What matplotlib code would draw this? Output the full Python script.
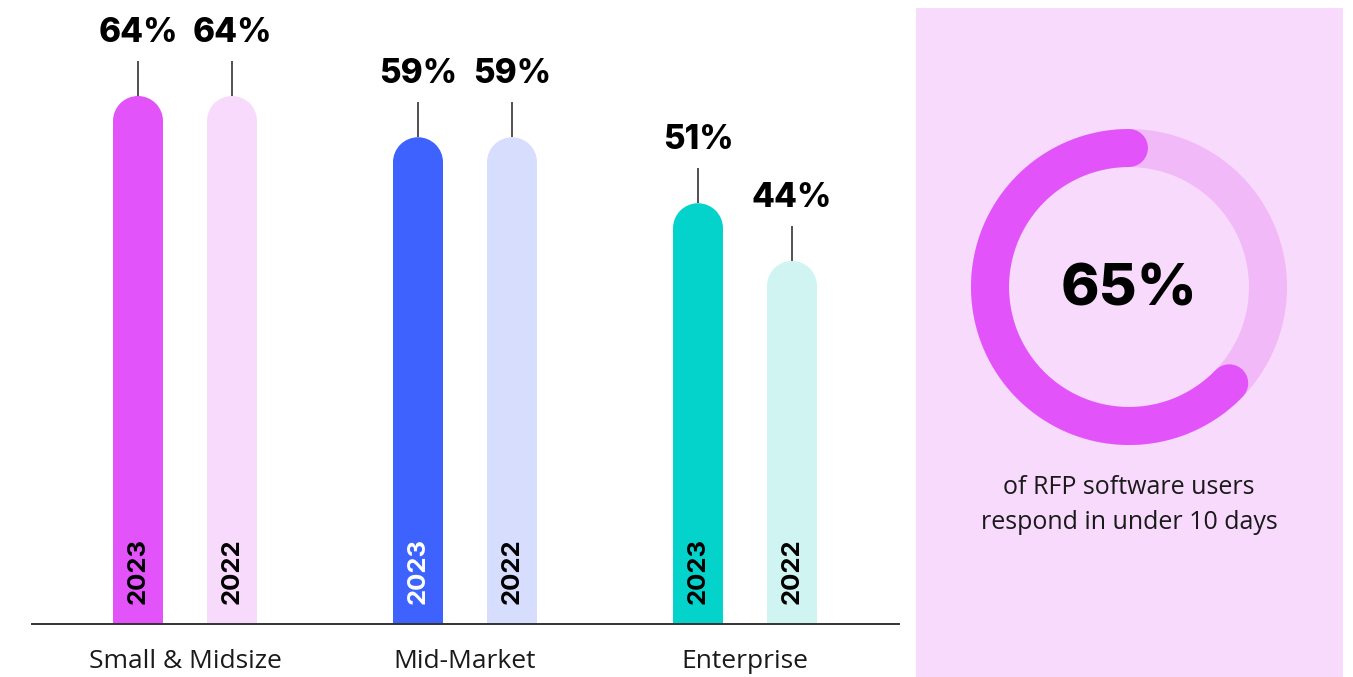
import numpy as np
import matplotlib
matplotlib.use("Agg")
import matplotlib.pyplot as plt
from matplotlib.patches import Rectangle, Ellipse, Wedge

# ---- data ----
categories = ["Small & Midsize", "Mid-Market", "Enterprise"]
years = ["2023", "2022"]
values_2023 = [64, 59, 51]
values_2022 = [64, 59, 44]
donut_value = 65
donut_caption = "of RFP software users\nrespond in under 10 days"

# ---- styling ----
dark_colors = ["#e254f9", "#3d62fe", "#04d3cc"]
light_colors = ["#f8dafc", "#d7defd", "#cff4f2"]
year_text_colors = [["black", "black"], ["white", "black"], ["black", "black"]]
panel_color = "#f8dafc"
track_color = "#f2b9f8"
arc_color = "#e254f9"

W, H, DPI = 1353, 677, 100
fig = plt.figure(figsize=(W / DPI, H / DPI), dpi=DPI)
fig.patch.set_facecolor("white")

# main bar axes: spans left part, bottom edge at the baseline
ax_left_px, ax_right_px = 0, 910
base_px = 624
ax = fig.add_axes([ax_left_px / W, (H - base_px) / H,
                   (ax_right_px - ax_left_px) / W, base_px / H])
ax.set_axis_off()

px_per_x = 280.0
first_center_px = 185.0
ax.set_xlim(-first_center_px / px_per_x, (ax_right_px - first_center_px) / px_per_x)
px_per_y = 8.25
ax.set_ylim(0, base_px / px_per_y)

bar_w = 50 / px_per_x
offset = 47 / px_per_x
cap_h = 25 / px_per_y  # rounded cap radius in data units (y)

label_font = "Inter"
cat_font = "Open Sans"

def rounded_bar(x, v, color):
    ax.add_patch(Rectangle((x - bar_w / 2, 0), bar_w, v - cap_h,
                           facecolor=color, edgecolor="none", zorder=2))
    ax.add_patch(Ellipse((x, v - cap_h), bar_w, 2 * cap_h,
                         facecolor=color, edgecolor="none", zorder=2))

for i, cat in enumerate(categories):
    for j, (vals, cols) in enumerate([(values_2023, dark_colors), (values_2022, light_colors)]):
        x = i + (-offset if j == 0 else offset)
        v = vals[i]
        rounded_bar(x, v, cols[i])
        # leader line above bar
        line_len = 35 / px_per_y
        ax.plot([x, x], [v, v + line_len], color="#222222", lw=1.1, zorder=3,
                solid_capstyle="butt", clip_on=False)
        ax.text(x, v + line_len + 12 / px_per_y, f"{v}%", ha="center", va="bottom",
                fontsize=24, fontweight="heavy", family=label_font, color="black",
                clip_on=False)
        # year label inside bar
        ax.text(x, 20 / px_per_y, years[j], rotation=90, ha="center", va="bottom",
                fontsize=18.5, fontweight="bold", family=label_font,
                color=year_text_colors[i][j], zorder=4)
    # category label below baseline
    ax.annotate(cat, xy=(i, 0), xytext=(0, -38 * 0.72), textcoords="offset points",
                ha="center", va="center", fontsize=19, family=cat_font,
                color="#1a1a1a", annotation_clip=False)

# baseline
ax.axhline(0, xmin=32 / 910, xmax=899 / 910, color="#333333", lw=1.4, clip_on=False, zorder=5)

# ---- right panel with donut ----
panel_x0, panel_x1, panel_top = 916, 1343, 8
fig.patches.append(Rectangle((panel_x0 / W, 0), (panel_x1 - panel_x0) / W,
                             (H - panel_top) / H, transform=fig.transFigure,
                             facecolor=panel_color, edgecolor="none", zorder=-5))

cx, cy, half = 1129, 287, 200
dax = fig.add_axes([(cx - half) / W, (H - cy - half) / H, 2 * half / W, 2 * half / H])
dax.set_zorder(5)
dax.set_xlim(-half, half)
dax.set_ylim(-half, half)
dax.set_aspect("equal")
dax.set_axis_off()

r_out, ring = 158, 38
r_mid = r_out - ring / 2
dax.add_patch(Wedge((0, 0), r_out, 0, 360, width=ring, facecolor=track_color, edgecolor="none"))
# arc measured from the start cap centre to the tip of the end cap
cap_deg = np.degrees((ring / 2) / r_mid)
theta = np.linspace(90, 90 + 360 * donut_value / 100 - cap_deg, 400)
dax.plot(r_mid * np.cos(np.radians(theta)), r_mid * np.sin(np.radians(theta)),
         color=arc_color, lw=ring * 0.72, solid_capstyle="round")
dax.text(0, -3, f"{donut_value}%", ha="center", va="center", fontsize=42,
         fontweight="heavy", family=label_font, color="black")

fig.text(cx / W, 1 - 505 / H, donut_caption, ha="center", va="center",
         fontsize=18, family=cat_font, color="#1a1a1a", linespacing=1.5)

fig.savefig("out.png", dpi=DPI)
